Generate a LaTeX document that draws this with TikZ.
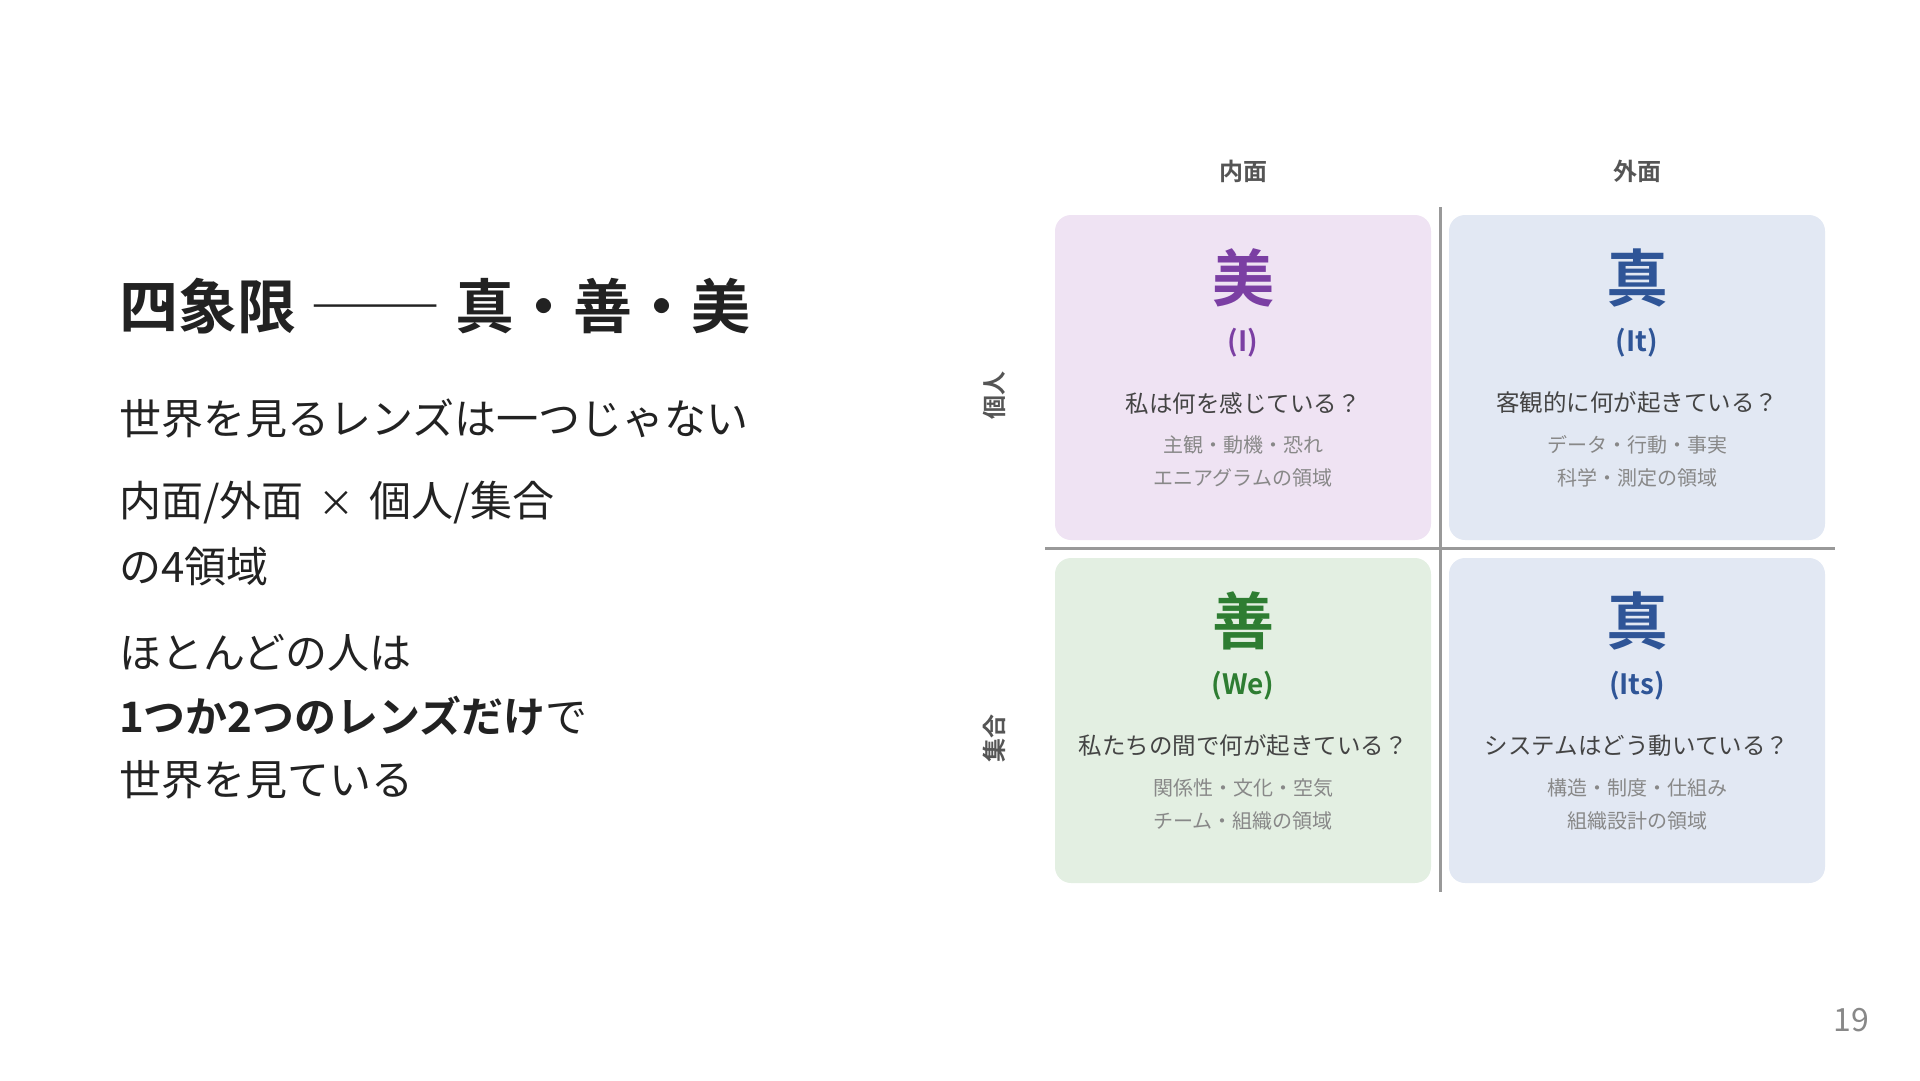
\documentclass[tikz,border=0pt]{standalone}
\usepackage{graphicx}
\usepackage{fontspec}
\setmainfont{Noto Sans CJK JP}[BoldFont={Noto Sans CJK JP Bold}]
\definecolor{inkdark}{HTML}{222222}
\definecolor{headgray}{HTML}{555555}
\definecolor{askgray}{HTML}{444444}
\definecolor{notegray}{HTML}{888888}
\definecolor{axisgray}{HTML}{999999}
\definecolor{beauty}{HTML}{7B3FA3}
\definecolor{truth}{HTML}{2F5597}
\definecolor{good}{HTML}{2E7D32}
\definecolor{beautyfill}{HTML}{EFE3F3}
\definecolor{truthfill}{HTML}{E2E8F3}
\definecolor{goodfill}{HTML}{E3EFE2}

\begin{document}
\begin{tikzpicture}[x=1pt,y=-1pt,
  body/.style={anchor=west,text=inkdark,font=\fontsize{42}{50}\selectfont},
  quad/.style={rounded corners=16pt,minimum width=376pt,minimum height=325pt},
  bigchar/.style={font=\bfseries\fontsize{62}{70}\selectfont},
  tag/.style={font=\bfseries\fontsize{28}{34}\selectfont},
  ask/.style={text=askgray,font=\fontsize{23.5}{28}\selectfont},
  note/.style={text=notegray,font=\fontsize{20}{24}\selectfont},
  axislabel/.style={text=headgray,font=\bfseries\fontsize{24}{28}\selectfont}]
\tikzstyle{every node}+=[inner sep=0pt]
\useasboundingbox (0,0) rectangle (1920,1080);
% left column
\node (title) at (119,306) [anchor=west,text=inkdark,font=\bfseries\fontsize{59}{70}\selectfont] {四象限 {\mdseries\scalebox{1.12}[1]{――}} 真・善・美};
\node (line1) at (119,418) [body] {世界を見るレンズは一つじゃない};
\node (line2) at (119,503) [body] {内面/外面\hspace{15pt}{\fontsize{36}{40}\selectfont ×}\hspace{15pt}個人/集合};
\node (line3) at (119,567) [body] {の4領域};
\node (line4) at (119,653) [body] {ほとんどの人は};
\node (line5) at (119,716) [body] {\textbf{1つか2つのレンズだけ}で};
\node (line6) at (119,780) [body] {世界を見ている};
% quadrants
\node (tl) at (1243,377.5) [quad,fill=beautyfill] {};
\node (tr) at (1637,377.5) [quad,fill=truthfill] {};
\node (bl) at (1243,720.5) [quad,fill=goodfill] {};
\node (br) at (1637,720.5) [quad,fill=truthfill] {};
% axes
\coordinate (vtop) at (1440,207);
\coordinate (vbot) at (1440,892);
\coordinate (hleft) at (1045,548);
\coordinate (hright) at (1835,548);
\draw [axisgray,line width=3pt] (vtop) -- (vbot);
\draw [axisgray,line width=3pt] (hleft) -- (hright);
\node (inner) at (1243,171) [axislabel] {内面};
\node (outer) at (1637,171) [axislabel] {外面};
\node (single) at (994,395) [axislabel,rotate=90] {個人};
\node (group) at (994,738) [axislabel,rotate=90] {集合};
% top left
\node (tl-char) at (1243,278) [bigchar,text=beauty] {美};
\node (tl-tag) at (1243,343) [tag,text=beauty] {(I)};
\node (tl-ask) at (1243,403) [ask] {私は何を感じている？};
\node (tl-note1) at (1243,445) [note] {主観・動機・恐れ};
\node (tl-note2) at (1243,478) [note] {エニアグラムの領域};
% top right
\node (tr-char) at (1637,278) [bigchar,text=truth] {真};
\node (tr-tag) at (1637,343) [tag,text=truth] {(It)};
\node (tr-ask) at (1637,403) [ask] {客観的に何が起きている？};
\node (tr-note1) at (1637,445) [note] {データ・行動・事実};
\node (tr-note2) at (1637,478) [note] {科学・測定の領域};
% bottom left
\node (bl-char) at (1243,621) [bigchar,text=good] {善};
\node (bl-tag) at (1243,686) [tag,text=good] {(We)};
\node (bl-ask) at (1243,746) [ask] {私たちの間で何が起きている？};
\node (bl-note1) at (1243,788) [note] {関係性・文化・空気};
\node (bl-note2) at (1243,821) [note] {チーム・組織の領域};
% bottom right
\node (br-char) at (1637,621) [bigchar,text=truth] {真};
\node (br-tag) at (1637,686) [tag,text=truth] {(Its)};
\node (br-ask) at (1637,746) [ask] {システムはどう動いている？};
\node (br-note1) at (1637,788) [note] {構造・制度・仕組み};
\node (br-note2) at (1637,821) [note] {組織設計の領域};
\node (pagenum) at (1851,1020) [text=notegray,font=\fontsize{32}{38}\selectfont] {19};
\end{tikzpicture}
\end{document}
